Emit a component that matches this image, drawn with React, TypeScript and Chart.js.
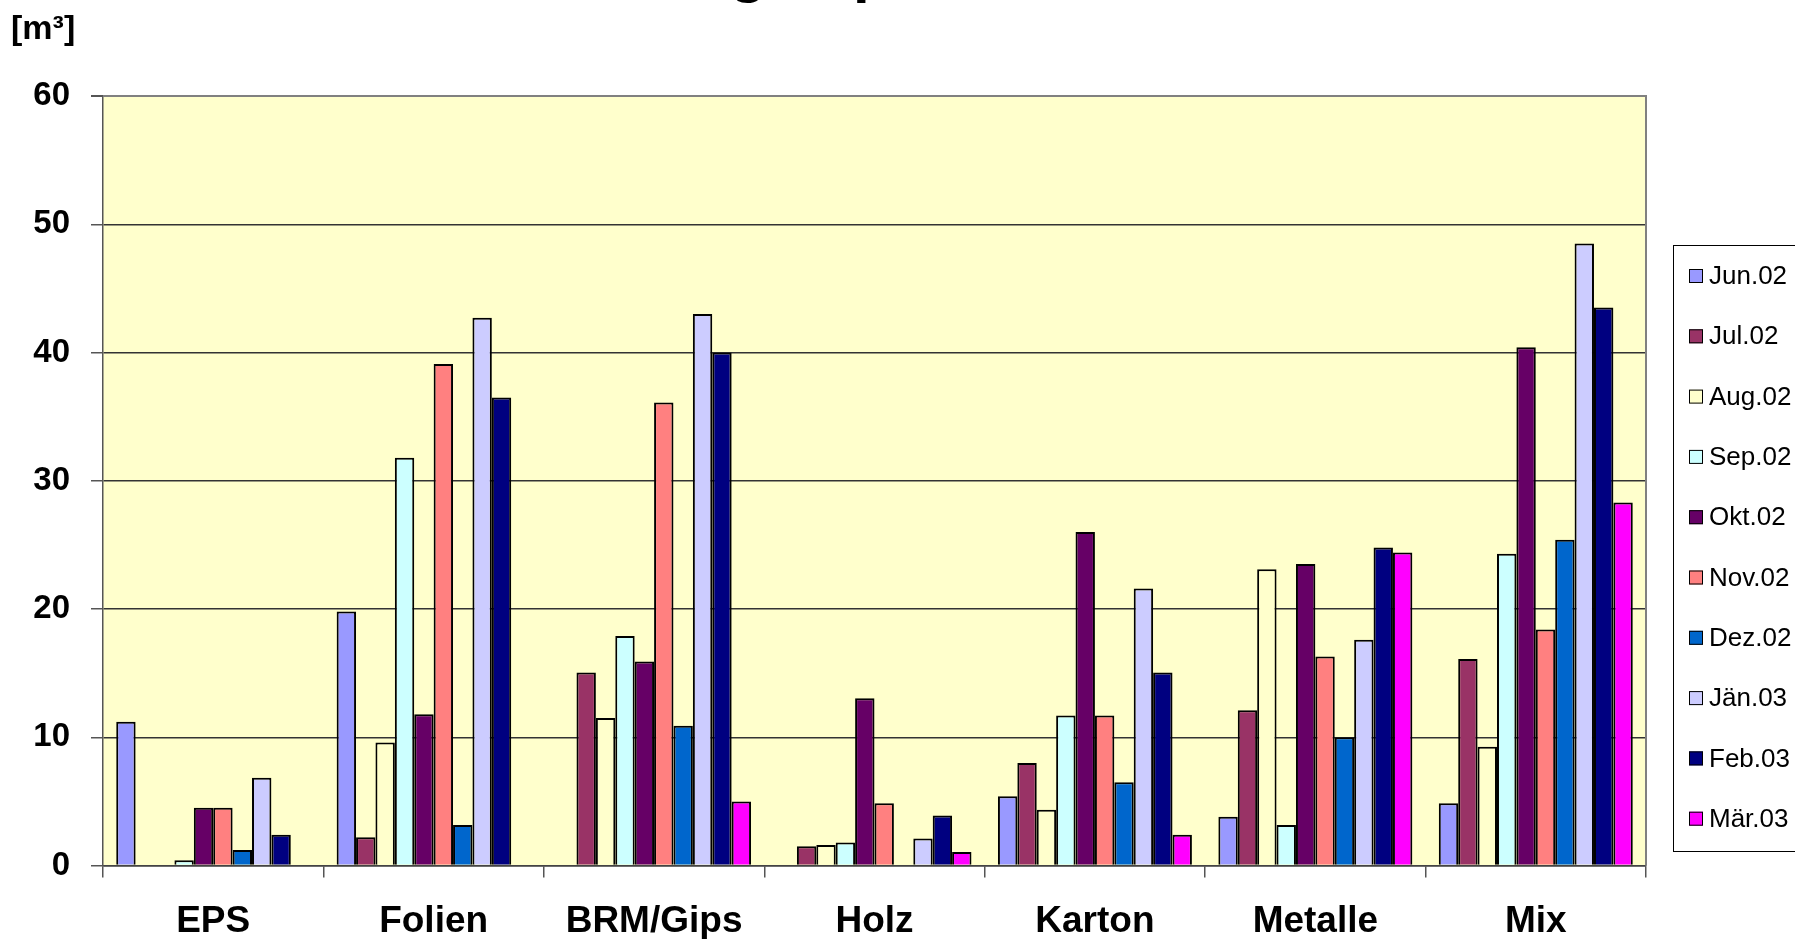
import React, { useEffect, useRef } from "react";
import { Chart, registerables } from "chart.js";

Chart.register(...registerables);

// ---------- data ----------
const categories = ["EPS", "Folien", "BRM/Gips", "Holz", "Karton", "Metalle", "Mix"];
const seriesLabels = ["Jun.02", "Jul.02", "Aug.02", "Sep.02", "Okt.02", "Nov.02", "Dez.02", "Jän.03", "Feb.03", "Mär.03"];
const seriesColors = ["#9999FF", "#993366", "#FFFFCC", "#CCFFFF", "#660066", "#FF8080", "#0066CC", "#CCCCFF", "#000080", "#FF00FF"];

const jun02 = [11.2, 19.8, 0, 0, 5.4, 3.8, 4.85];
const jul02 = [0, 2.2, 15.05, 1.5, 8.0, 12.1, 16.1];
const aug02 = [0, 9.6, 11.5, 1.6, 4.35, 23.1, 9.25];
const sep02 = [0.4, 31.8, 17.9, 1.8, 11.7, 3.15, 24.3];
const okt02 = [4.5, 11.8, 15.9, 13.05, 26.0, 23.5, 40.4];
const nov02 = [4.5, 39.1, 36.1, 4.85, 11.7, 16.3, 18.4];
const dez02 = [1.2, 3.15, 10.9, 0, 6.5, 10.0, 25.4];
const jan03 = [6.85, 42.7, 43.0, 2.1, 21.6, 17.6, 48.5];
const feb03 = [2.4, 36.5, 40.0, 3.9, 15.05, 24.8, 43.5];
const mar03 = [0, 0, 5.0, 1.05, 2.4, 24.4, 28.3];

const seriesValues = [jun02, jul02, aug02, sep02, okt02, nov02, dez02, jan03, feb03, mar03];

const yMin = 0;
const yMax = 60;
const yStep = 10;

const titleText = "Abfallmengen pro Fraktion";
const unitText = "[m³]";

// ---------- layout constants ----------
const OFF = 60; // canvas extends above the viewport (title is clipped)
const VIEW_W = 1795;
const VIEW_H = 939;
const CANVAS_H = VIEW_H + OFF;
const FONT = "'Liberation Sans', Arial, Helvetica, sans-serif";

const plotBgPlugin = {
  id: "plotBg",
  beforeDraw(chart: any) {
    const { ctx, chartArea } = chart;
    ctx.save();
    ctx.fillStyle = "#FFFFCC";
    ctx.fillRect(chartArea.left, chartArea.top, chartArea.right - chartArea.left, chartArea.bottom - chartArea.top);
    ctx.restore();
  },
  beforeDatasetsDraw(chart: any) {
    const { ctx, chartArea } = chart;
    ctx.save();
    ctx.strokeStyle = "#808080";
    ctx.lineWidth = 2;
    ctx.beginPath();
    ctx.moveTo(chartArea.left, chartArea.top);
    ctx.lineTo(chartArea.right, chartArea.top);
    ctx.lineTo(chartArea.right, chartArea.bottom);
    ctx.stroke();
    ctx.restore();
  },
};

const textsPlugin = {
  id: "texts",
  afterDraw(chart: any) {
    const { ctx } = chart;
    ctx.save();
    // title (mostly above the visible page)
    ctx.font = `bold 60px ${FONT}`;
    ctx.fillStyle = "#000";
    ctx.textBaseline = "alphabetic";
    ctx.textAlign = "left";
    const gi = titleText.indexOf("g");
    const pre = ctx.measureText(titleText.slice(0, gi)).width;
    const gw = ctx.measureText("g").width;
    ctx.fillText(titleText, 748 - pre - gw / 2, OFF - 9);

    // unit label
    ctx.font = `bold 34px ${FONT}`;
    ctx.textBaseline = "middle";
    ctx.fillText(unitText, 11, OFF + 30);

    // legend
    const boxL = 1673;
    const boxT = OFF + 245;
    const boxB = OFF + 851;
    ctx.strokeStyle = "#000";
    ctx.lineWidth = 1;
    ctx.strokeRect(boxL + 0.5, boxT + 0.5, 400, boxB - boxT);
    ctx.font = `26px ${FONT}`;
    ctx.textBaseline = "middle";
    seriesLabels.forEach((lab, i) => {
      const cy = OFF + 276 + i * 60.3;
      ctx.fillStyle = seriesColors[i];
      ctx.fillRect(1689, cy - 7, 14, 14);
      ctx.strokeStyle = "#000";
      ctx.strokeRect(1689.5, cy - 6.5, 13, 13);
      ctx.fillStyle = "#000";
      ctx.fillText(lab, 1709, cy + 1);
    });
    ctx.restore();
  },
};

export default function App() {
  const ref = useRef<HTMLCanvasElement>(null);

  useEffect(() => {
    const canvas = ref.current;
    if (!canvas) return;
    const chart = new Chart(canvas, {
      type: "bar",
      data: {
        labels: categories,
        datasets: seriesLabels.map((lab, i) => ({
          label: lab,
          data: seriesValues[i],
          backgroundColor: seriesColors[i],
          borderColor: "#000",
          borderWidth: 2,
          categoryPercentage: 0.88,
          barPercentage: 1.0,
        })),
      },
      options: {
        responsive: false,
        devicePixelRatio: 1,
        animation: false,
        events: [],
        layout: {
          padding: { left: 0, top: OFF + 96, right: VIEW_W - 1646, bottom: 0 },
        },
        plugins: {
          legend: { display: false },
          title: { display: false },
          tooltip: { enabled: false },
        },
        scales: {
          x: {
            offset: true,
            grid: {
              offset: true,
              drawOnChartArea: false,
              drawTicks: true,
              tickLength: 12,
              tickColor: "#555",
              lineWidth: 1.5,
            },
            border: { display: true, color: "#444", width: 1.5 },
            ticks: {
              color: "#000",
              font: { family: FONT, size: 37, weight: "bold" },
              padding: 22,
              maxRotation: 0,
              autoSkip: false,
            },
            afterFit: (s: any) => {
              s.height = CANVAS_H - (OFF + 865.5);
            },
          },
          y: {
            min: yMin,
            max: yMax,
            ticks: {
              stepSize: yStep,
              color: "#000",
              font: { family: FONT, size: 33, weight: "bold" },
              padding: 21,
            },
            grid: {
              color: (c: any) => (c.tick && c.tick.value === yMax ? "#808080" : "#333"),
              lineWidth: (c: any) => (c.tick && c.tick.value === yMax ? 2 : 1.5),
              tickLength: 12,
              tickColor: "#555",
              drawTicks: true,
            },
            border: { display: true, color: "#555", width: 1.5 },
            afterFit: (s: any) => {
              s.width = 103;
            },
          },
        },
      },
      plugins: [plotBgPlugin, textsPlugin],
    });
    return () => chart.destroy();
  }, []);

  return (
    <div
      style={{
        position: "fixed",
        left: 0,
        top: 0,
        width: VIEW_W,
        height: VIEW_H,
        overflow: "hidden",
        background: "#fff",
      }}
    >
      <canvas
        ref={ref}
        width={VIEW_W}
        height={CANVAS_H}
        style={{ position: "absolute", left: 0, top: -OFF, width: VIEW_W, height: CANVAS_H }}
      />
    </div>
  );
}
